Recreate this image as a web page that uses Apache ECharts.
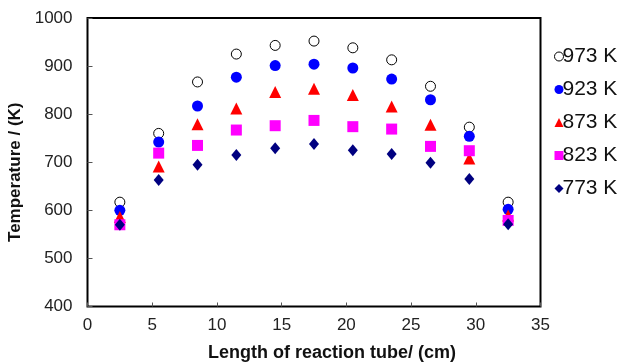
<!DOCTYPE html>
<html><head><meta charset="utf-8">
<script src="https://cdn.jsdelivr.net/npm/echarts@6/dist/echarts.min.js"></script>
<style>html,body{margin:0;padding:0;background:#fff}#c{width:625px;height:362px}</style>
</head><body><div id="c"></div>
<script>
const positions = [2.5, 5.5, 8.5, 11.5, 14.5, 17.5, 20.5, 23.5, 26.5, 29.5, 32.5];
const seriesNames = ['973 K', '923 K', '873 K', '823 K', '773 K'];
const t973 = [617, 760, 867, 925, 943, 952, 938, 913, 858, 773, 617];
const t923 = [600, 742, 817, 877, 901, 904, 896, 873, 830, 754, 602];
const t873 = [586, 691, 779, 812, 846, 853, 840, 816, 778, 708, 589];
const t823 = [570, 719, 735, 767, 776, 787, 774, 769, 733, 724, 579];
const t773 = [570, 663, 695, 715, 729, 738, 725, 717, 699, 665, 571];
const xTicks = [0, 5, 10, 15, 20, 25, 30, 35];
const yTicks = [400, 500, 600, 700, 800, 900, 1000];

const values = [t973, t923, t873, t823, t773];
const styles = [
  {symbol:'circle', size:10, itemStyle:{color:'#fff', borderColor:'#000', borderWidth:1, opacity:1}},
  {symbol:'circle', size:11, itemStyle:{color:'#0000ff', opacity:1}},
  {symbol:'triangle', size:12, itemStyle:{color:'#ff0000', opacity:1}},
  {symbol:'rect', size:11, itemStyle:{color:'#ff00ff', opacity:1}},
  {symbol:'diamond', size:[10,12], itemStyle:{color:'#000080', opacity:1}}
];
const font = 'Liberation Sans, Arial, sans-serif';
const chart = echarts.init(document.getElementById('c'), null, {renderer:'canvas'});
chart.setOption({
  animation:false,
  grid:{left:87.5, right:84.5, top:18, bottom:55.5, show:true, borderColor:'#000', borderWidth:2, backgroundColor:'transparent', containLabel:false, outerBoundsMode:'none'},
  legend:{
    orient:'vertical', left:549, top:41, itemGap:12, itemWidth:9, itemHeight:9,
    textStyle:{fontFamily:font, fontSize:21, color:'#111', padding:[0,0,0,-6]},
    data: seriesNames.map((n,i)=>({name:n, icon:styles[i].symbol, itemStyle:styles[i].itemStyle}))
  },
  xAxis:{
    type:'value', min:xTicks[0], max:xTicks[xTicks.length-1], interval:5,
    name:'Length of reaction tube/ (cm)', nameLocation:'middle', nameGap:38,
    nameTextStyle:{fontFamily:font, fontSize:18, fontWeight:'bold', color:'#111', padding:[0,0,0,36]},
    axisLine:{show:false}, splitLine:{show:false},
    axisTick:{inside:true, length:4, lineStyle:{color:'#555'}},
    axisLabel:{fontFamily:font, fontSize:17, color:'#222', margin:10}
  },
  yAxis:{
    type:'value', min:yTicks[0], max:yTicks[yTicks.length-1], interval:100,
    name:'Temperature / (K)', nameLocation:'middle', nameGap:62,
    nameTextStyle:{fontFamily:font, fontSize:17, fontWeight:'bold', color:'#111', padding:[0,20,0,0]},
    axisLine:{show:false}, splitLine:{show:false},
    axisTick:{inside:true, length:5, lineStyle:{color:'#555'}},
    axisLabel:{fontFamily:font, fontSize:17, color:'#222', margin:15, formatter:v=>String(v)}
  },
  series: values.map((v,i)=>({
    name:seriesNames[i], type:'scatter', symbol:styles[i].symbol, symbolSize:styles[i].size,
    itemStyle:styles[i].itemStyle, data:positions.map((x,j)=>[x, v[j]])
  }))
});
</script></body></html>
